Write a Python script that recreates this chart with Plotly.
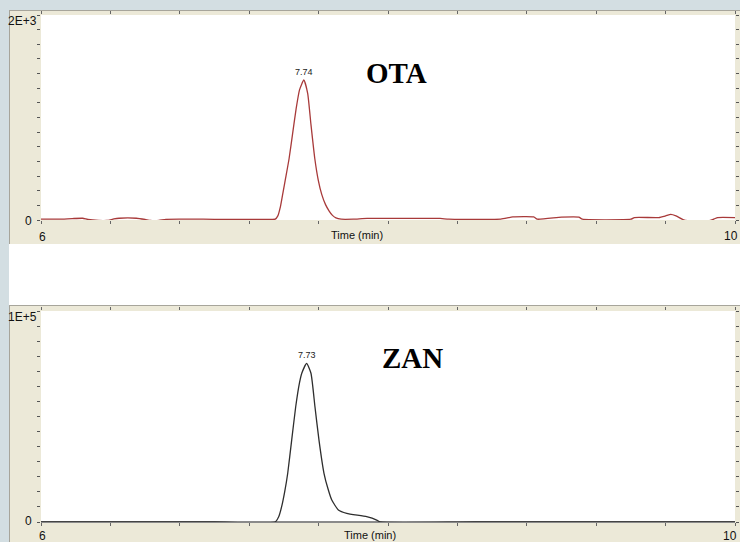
import plotly.graph_objects as go

# ---------------- data ----------------
ota_time = [6.00, 6.10, 6.18, 6.24, 6.27, 6.33, 6.38, 6.42, 6.45, 6.55, 6.60, 6.63, 6.68, 6.72,
            7.00, 7.30, 7.35, 7.365, 7.38, 7.395, 7.41, 7.43, 7.45, 7.47, 7.49, 7.515, 7.537,
            7.556, 7.578, 7.598, 7.618, 7.64, 7.66, 7.68, 7.70, 7.73, 7.80, 7.88, 8.10, 8.30,
            8.35, 8.65, 8.72, 8.84, 8.86, 9.00, 9.10, 9.12, 9.40, 9.42, 9.56, 9.60, 9.63,
            9.66, 9.70, 9.73, 9.85, 9.88, 9.90, 10.00]
ota_signal = [8, 8, 14, 17, 5, -5, -5, 10, 17, 17, 5, -5, -5, 7,
              7, 7, 8, 40, 130, 270, 410, 600, 840, 1080, 1270, 1366, 1236,
              930, 600, 390, 250, 150, 90, 45, 20, 8, 8, 15, 15, 15,
              8, 8, 30, 30, 8, 28, 28, 8, 8, 24, 24, 40, 55,
              40, 5, -7, -7, 10, 24, 24]

zan_time = [6.00, 7.00, 7.349, 7.37, 7.387, 7.405, 7.422, 7.445, 7.468, 7.49, 7.503, 7.531,
            7.556, 7.579, 7.602, 7.631, 7.655, 7.676, 7.714, 7.762, 7.877, 7.935, 7.954,
            8.50, 10.00]
zan_signal = [0, 0, 0, 2500, 7250, 14500, 23100, 38900, 54600, 66000, 70500, 75200,
              70500, 54600, 38900, 23100, 15500, 10400, 5700, 4100, 2500, 900, 0,
              0, 0]

x_range = [6, 10]
x_tick_labels = ["6", "10"]
ota_y_labels = ["0", "2E+3"]
zan_y_labels = ["0", "1E+5"]
ota_max = 2000
zan_max = 100000
ota_peak_label = "7.74"
zan_peak_label = "7.73"
ota_peak_pos = (7.515, 1366)
zan_peak_pos = (7.531, 75200)

# ---------------- layout helpers ----------------
W, H = 740, 542


def px(x):
    return x / W


def py(y):
    return 1 - y / H


BLUEGRAY = "#d3dee2"
BEIGE = "#ece9d8"
BORDER = "#a7a59b"
OTA_COLOR = "#a83a3a"
ZAN_COLOR = "#2e2e2e"

fig = go.Figure()
fig.add_trace(go.Scatter(x=ota_time, y=ota_signal, mode="lines", xaxis="x", yaxis="y",
                         line=dict(color=OTA_COLOR, width=1.3, shape="spline", smoothing=0.5),
                         hoverinfo="skip", showlegend=False))
fig.add_trace(go.Scatter(x=zan_time, y=zan_signal, mode="lines", xaxis="x2", yaxis="y2",
                         line=dict(color=ZAN_COLOR, width=1.3, shape="spline", smoothing=0.5),
                         hoverinfo="skip", showlegend=False))

shapes = []


def rect(x0, y0, x1, y1, color):
    shapes.append(dict(type="rect", xref="paper", yref="paper", x0=px(x0), x1=px(x1),
                       y0=py(y1), y1=py(y0), fillcolor=color, line=dict(width=0), layer="below"))


def line(x0, y0, x1, y1, color, w=1):
    shapes.append(dict(type="line", xref="paper", yref="paper", x0=px(x0), x1=px(x1),
                       y0=py(y0), y1=py(y1), line=dict(color=color, width=w), layer="below"))


# outer strips
rect(0, 0, 9, H, BLUEGRAY)
rect(0, 0, W, 10, BLUEGRAY)
# panel 1
rect(9, 10, W, 244, BEIGE)
rect(41, 15, 735, 220, "white")
line(9.5, 10, 9.5, 244, BORDER)
line(9, 10.5, W, 10.5, BORDER)
# panel 2
rect(9, 305, W, H, BEIGE)
rect(41, 311, 735, 522, "white")
line(9.5, 305, 9.5, H, BORDER)
line(9, 305.5, W, 305.5, BORDER)
line(41, 522, 735, 522, "#8a8a8a", 2)

ann = []


def text(t, x, y, size, xanchor="center", family="Liberation Sans, Arial", bold=False, color="#111"):
    ann.append(dict(text=("<b>%s</b>" % t) if bold else t, x=px(x), y=py(y), xref="paper",
                    yref="paper", xanchor=xanchor, yanchor="middle", showarrow=False,
                    font=dict(size=size, family=family, color=color)))


# panel 1 labels
text(ota_y_labels[1], 39, 21, 12, xanchor="right")
text(ota_y_labels[0], 34, 221, 12, xanchor="right")
text(x_tick_labels[0], 42, 237, 12)
text(x_tick_labels[1], 731, 236, 12)
text("Time (min)", 357, 235, 11)
text("OTA", 396, 73, 29, family="Liberation Serif, Times New Roman", bold=True, color="black")
# panel 2 labels
text(zan_y_labels[1], 39, 317, 12, xanchor="right")
text(zan_y_labels[0], 34, 521, 12, xanchor="right")
text(x_tick_labels[0], 42, 536, 12)
text(x_tick_labels[1], 730, 536, 12)
text("Time (min)", 370, 535, 11)
text("ZAN", 412, 358, 29, family="Liberation Serif, Times New Roman", bold=True, color="black")

# peak labels anchored to data
ann.append(dict(text=ota_peak_label, x=ota_peak_pos[0], y=ota_peak_pos[1], xref="x", yref="y",
                yanchor="bottom", yshift=1, showarrow=False,
                font=dict(size=9, family="Liberation Sans, Arial", color="#222")))
ann.append(dict(text=zan_peak_label, x=zan_peak_pos[0], y=zan_peak_pos[1], xref="x2", yref="y2",
                yanchor="bottom", yshift=1, showarrow=False,
                font=dict(size=9, family="Liberation Sans, Arial", color="#222")))

xdom = [px(41), px(735)]
xcommon = dict(range=x_range, domain=xdom, showgrid=False, zeroline=False, showticklabels=False,
               ticks="outside", ticklen=3, tickcolor="#666", tickwidth=1, tick0=6, dtick=0.4,
               mirror="ticks", showline=False, fixedrange=True)
ycommon = dict(showgrid=False, zeroline=False, showticklabels=False, ticks="outside",
               ticklen=3, tickcolor="#555", tickwidth=1, mirror="ticks", showline=False,
               fixedrange=True)

fig.update_layout(
    width=W, height=H, autosize=False,
    margin=dict(l=0, r=0, t=0, b=0, pad=0),
    paper_bgcolor="white", plot_bgcolor="rgba(0,0,0,0)",
    xaxis=dict(anchor="y", **xcommon),
    xaxis2=dict(anchor="y2", **xcommon),
    yaxis=dict(anchor="x", domain=[py(220), py(15)], range=[0, ota_max], tick0=0,
               dtick=ota_max / 14, **ycommon),
    yaxis2=dict(anchor="x2", domain=[py(522), py(311)], range=[0, zan_max], tick0=0,
                dtick=zan_max / 14, **ycommon),
    shapes=shapes, annotations=ann, showlegend=False,
)

fig.write_html("out.html", config={"displayModeBar": False},
               post_script="document.body.style.margin='0';document.body.style.overflow='hidden';")
